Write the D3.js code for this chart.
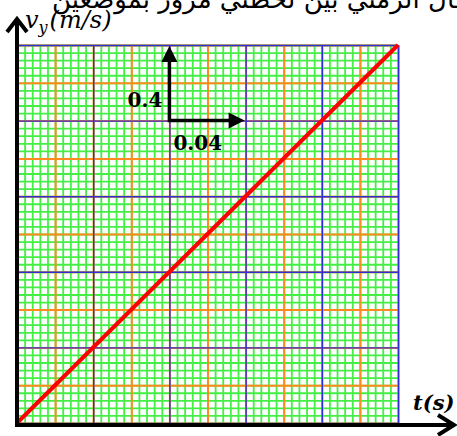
<!DOCTYPE html>
<html>
<head>
<meta charset="utf-8">
<script src="https://cdn.jsdelivr.net/npm/d3@7"></script>
<style>
  body { margin: 0; background: #fff; }
  .wrapper { width: 457px; height: 436px; overflow: hidden; }
</style>
</head>
<body>
<div class="wrapper"></div>
<script>
// data: v_y grows linearly with t
var times = [0, 0.2];          // t (s)
var speeds = [0, 2.0];         // v_y (m/s)

// scale indicator: one big square is 0.04 s wide and 0.4 m/s high
var scaleOrigin = [0.08, 1.6];
var scaleStep = [0.04, 0.4];
var scaleLabels = ["0.04", "0.4"];

var title = "المجال الزمني بين لحظتي مرور بموضعين";
var xLabel = "t(s)";

var width = 457,
    height = 436;

var svg = d3.select(".wrapper")
  .append("svg")
    .attr("width", width)
    .attr("height", height);

var x = d3.scaleLinear()
    .domain([0, 0.2])
    .range([17, 398]);

var y = d3.scaleLinear()
    .domain([0, 2])
    .range([423, 45]);

// millimetre paper: green every 0.004 s, orange every 0.02, blue every 0.04
var gridLevels = [
  {dx: 0.004, dy: 0.04, color: "#44ee44", w: 1.8},
  {dx: 0.02,  dy: 0.2,  color: "#ff8a1e", w: 2},
  {dx: 0.04,  dy: 0.4,  color: "#2f2fd8", w: 1.4}
];

gridLevels.forEach(function(g) {
  var xv = d3.range(0, 0.2 + 1e-9, g.dx);
  var yv = d3.range(0, 2 + 1e-9, g.dy);

  var gx = svg.append("g")
      .attr("transform", "translate(0," + y(0) + ")")
      .call(d3.axisBottom(x).tickValues(xv).tickSize(-(y(0) - y(2))).tickFormat(""));
  gx.select(".domain").remove();
  gx.selectAll("line").attr("stroke", g.color).attr("stroke-width", g.w);

  var gy = svg.append("g")
      .attr("transform", "translate(" + x(0) + ",0)")
      .call(d3.axisLeft(y).tickValues(yv).tickSize(-(x(0.2) - x(0))).tickFormat(""));
  gy.select(".domain").remove();
  gy.selectAll("line").attr("stroke", g.color).attr("stroke-width", g.w);
});

// the measured line
var line = d3.line()
    .x(function(d, i) { return x(times[i]); })
    .y(function(d, i) { return y(speeds[i]); });

svg.append("path")
    .datum(times)
    .attr("d", line)
    .style("fill", "none")
    .style("stroke", "#ff0000")
    .style("stroke-width", "4px");

// axes with open arrow heads
svg.append("line")
    .attr("x1", x(0) - 1.5).attr("y1", y(0) + 2)
    .attr("x2", 454).attr("y2", y(0) + 2)
    .attr("stroke", "#000").attr("stroke-width", 4);
svg.append("path")
    .attr("d", "M438,415L454," + (y(0) + 2) + "L438,435")
    .attr("fill", "none").attr("stroke", "#000").attr("stroke-width", 4);

svg.append("line")
    .attr("x1", x(0)).attr("y1", y(0) + 4)
    .attr("x2", x(0)).attr("y2", 19)
    .attr("stroke", "#000").attr("stroke-width", 4);
svg.append("path")
    .attr("d", "M" + (x(0) - 10) + ",32L" + x(0) + ",19L" + (x(0) + 10) + ",32")
    .attr("fill", "none").attr("stroke", "#000").attr("stroke-width", 4);

// scale indicator arrows
var sx = x(scaleOrigin[0]), sy = y(scaleOrigin[1]);
var ex = x(scaleOrigin[0] + scaleStep[0]);
var ey = y(scaleOrigin[1] + scaleStep[1]);

svg.append("path")
    .attr("d", "M" + sx + "," + (ey + 14) + "L" + sx + "," + sy + "L" + (ex - 14) + "," + sy)
    .attr("fill", "none").attr("stroke", "#000").attr("stroke-width", 3.5);
svg.append("path")
    .attr("d", "M" + sx + "," + (ey + 1) + "L" + (sx - 8) + "," + (ey + 17) + "L" + (sx + 8) + "," + (ey + 17) + "Z")
    .attr("fill", "#000");
svg.append("path")
    .attr("d", "M" + (ex - 1) + "," + sy + "L" + (ex - 17) + "," + (sy - 8) + "L" + (ex - 17) + "," + (sy + 8) + "Z")
    .attr("fill", "#000");

var serif = "'DejaVu Serif', 'Liberation Serif', serif";

svg.append("text")
    .attr("x", sx - 7).attr("y", sy - 14)
    .attr("text-anchor", "end")
    .style("font-family", serif).style("font-weight", "bold").style("font-size", "20px")
    .text(scaleLabels[1]);

svg.append("text")
    .attr("x", sx + 4).attr("y", sy + 29)
    .style("font-family", serif).style("font-weight", "bold").style("font-size", "20px")
    .text(scaleLabels[0]);

// axis titles
var vy = svg.append("text")
    .attr("x", 25).attr("y", 28)
    .style("font-family", serif).style("font-style", "italic").style("font-size", "24px");
vy.append("tspan").text("v");
vy.append("tspan").attr("dy", 5).style("font-size", "16px").text("y");
vy.append("tspan").attr("dy", -5).attr("dx", 2).text("(m/s)");

svg.append("text")
    .attr("x", 413).attr("y", 410)
    .style("font-family", serif).style("font-style", "italic").style("font-weight", "bold").style("font-size", "21px")
    .text(xLabel);

// title line, clipped at the top and right edges of the picture
svg.append("text")
    .attr("x", 52).attr("y", 8)
    .attr("direction", "rtl")
    .attr("text-anchor", "end")
    .style("font-family", "'DejaVu Sans', sans-serif")
    .style("font-size", "26px")
    .text(title);
</script>
</body>
</html>
